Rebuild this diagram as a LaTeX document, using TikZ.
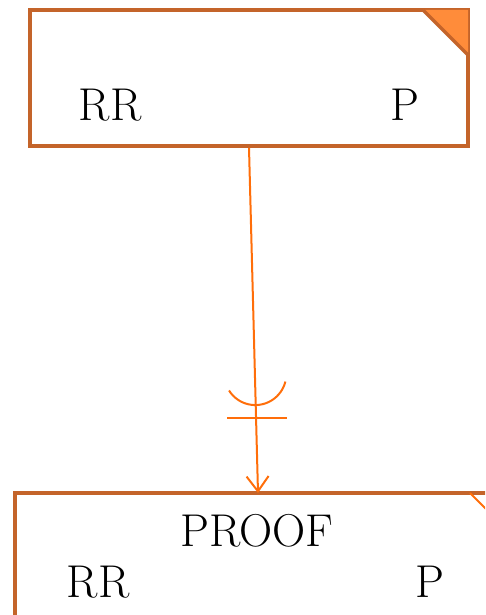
\documentclass[tikz,border=0pt]{standalone}
\usetikzlibrary{arrows.meta,calc}
\definecolor{boxc}{RGB}{196,100,42}
\definecolor{linec}{RGB}{255,110,10}
\definecolor{foldc}{RGB}{255,140,58}
\begin{document}
\begin{tikzpicture}[x=1pt,y=1pt,
  entity/.style={draw=boxc,line width=3.5pt,minimum width=438pt,minimum height=136pt,inner sep=0pt},
  lbl/.style={font=\fontsize{46}{54}\selectfont,inner sep=0pt,anchor=base},
  rel/.style={draw=linec,line width=2pt}]
\useasboundingbox (0,0) rectangle (485,-615);
\clip (0,0) rectangle (485,-615);
% top entity
\node[entity] (top) at (249,-78) {};
\fill[foldc] (423,-10) -- (468,-10) -- (468,-55) -- cycle;
\draw[boxc,line width=3.5pt,line join=miter] (423,-10) -- (468,-55);
\node[lbl] (trr) at (110,-121) {RR};
\node[lbl] (tp) at (405,-121) {P};
% bottom entity
\node[entity,minimum width=500pt] (bot) at (265,-561) {};
\draw[linec,line width=2pt] (470,-493) -- (515,-538);
\node[lbl] (bproof) at (257,-546) {PROOF};
\node[lbl] (brr) at (98,-597) {RR};
\node[lbl] (bp) at (430,-597) {P};
% relationship
\coordinate (tgt) at (258,-493);
\draw[rel,-{Straight Barb[length=15pt,width=22pt,line width=2pt]}] (top.south) -- (tgt);
\draw[rel] (257,-373) ++(212:33) arc[start angle=212,end angle=346,radius=31];
\draw[rel] (227,-418) -- (287,-418);
\end{tikzpicture}
\end{document}
